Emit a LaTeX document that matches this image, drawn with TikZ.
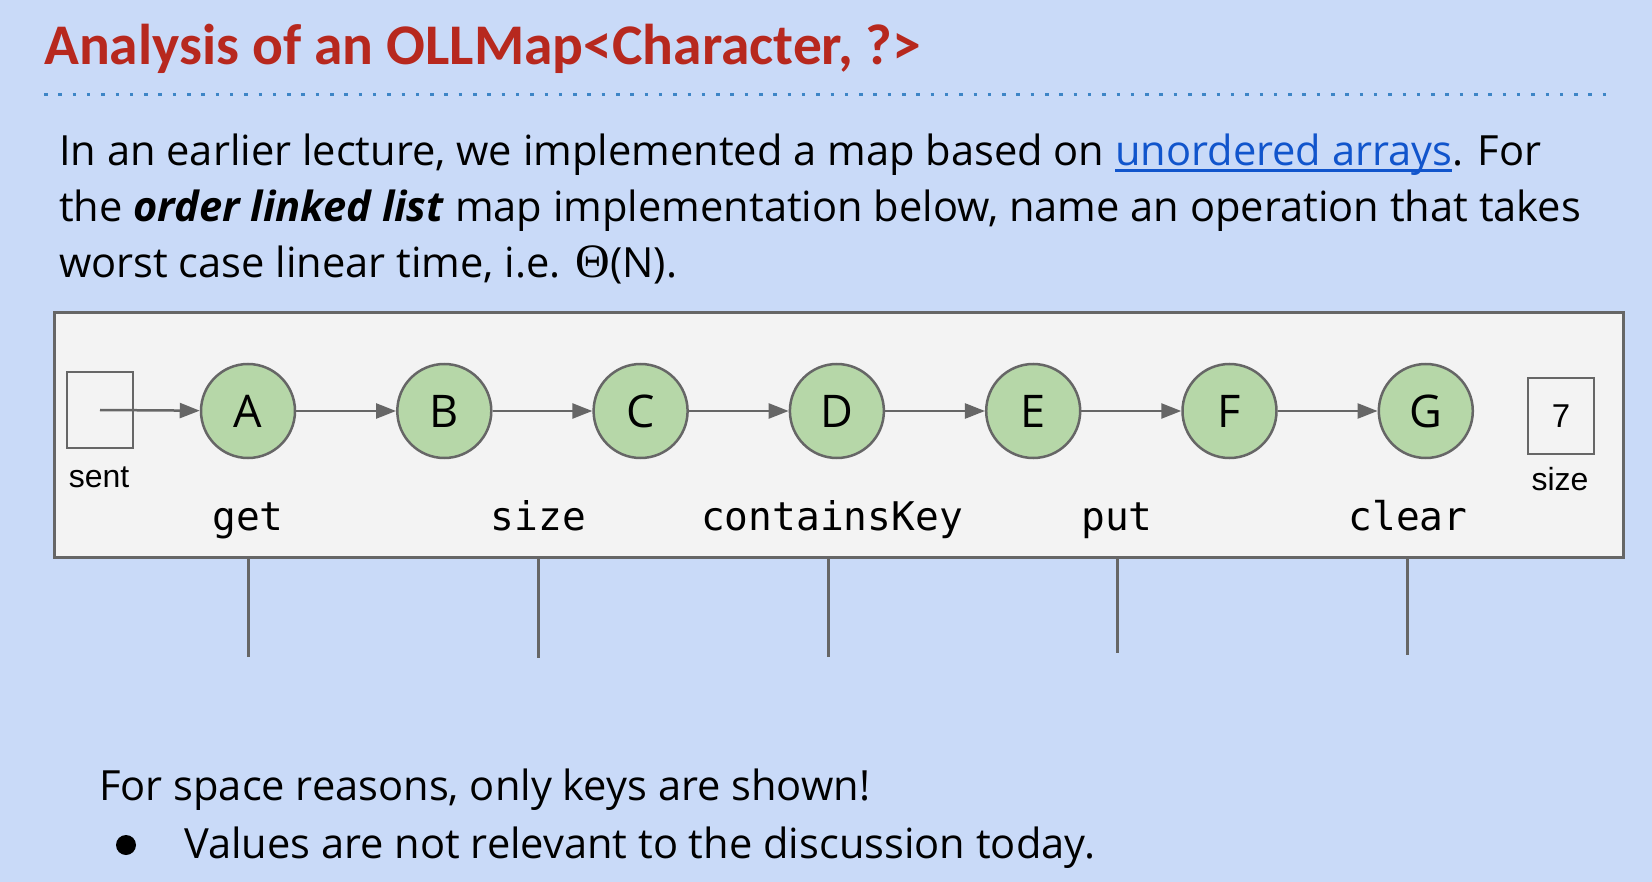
\documentclass[tikz,border=0pt]{standalone}
\usepackage{fontspec}
\setmainfont{Open Sans}
\newfontfamily\titlefont{Carlito}
\newfontfamily\codefont{DejaVu Sans Mono}
\newfontfamily\labelfont{Liberation Sans}
\newfontfamily\thetafont{Liberation Serif}
\usepackage{tikz}
\usetikzlibrary{shapes,arrows,arrows.meta,positioning,calc}
\definecolor{slideblue}{HTML}{C9DAF8}
\definecolor{titlered}{HTML}{B7281E}
\definecolor{dotblue}{HTML}{3D85C6}
\definecolor{linkblue}{HTML}{1155CC}
\definecolor{boxgray}{HTML}{F3F3F3}
\definecolor{edgegray}{HTML}{666666}
\definecolor{keygreen}{HTML}{B6D7A8}
\newcommand{\linktext}[1]{\textcolor{linkblue}{\setbox0\hbox{#1}\rlap{\rule[-6pt]{\wd0}{2.5pt}}\box0}}
\tikzstyle{keynode}=[circle, draw=edgegray, fill=keygreen, line width=2.5pt, minimum size=94pt, inner sep=0pt, font=\fontsize{45}{45}\selectfont]
\tikzstyle{smallbox}=[rectangle, draw=edgegray, line width=1.5pt, minimum width=66pt, minimum height=76pt, inner sep=0pt, font=\labelfont\fontsize{33}{33}\selectfont]
\tikzstyle{boxlabel}=[anchor=base, inner sep=0pt, font=\labelfont\fontsize{32}{32}\selectfont]
\tikzstyle{nextptr}=[-{Triangle[length=20pt,width=15pt]}, draw=edgegray, line width=2.5pt]
\tikzstyle{oplabel}=[anchor=base, inner sep=0pt, font=\codefont\fontsize{39.5}{39.5}\selectfont]
\tikzstyle{oplink}=[draw=edgegray, line width=3pt]
\tikzstyle{bodytext}=[anchor=base west, inner sep=0pt, font=\fontsize{41.6}{56}\selectfont]

\begin{document}
\begin{tikzpicture}[x=1pt,y=-1pt]

\fill[slideblue] (0,0) rectangle (1652,882);
\useasboundingbox (0,0) rectangle (1652,882);

% title
\node[anchor=base west, inner sep=0pt, text=titlered, font=\titlefont\bfseries\fontsize{57.5}{57.5}\selectfont] (title) at (44,65) {Analysis of an OLLMap<Character, ?>};
\draw[dotblue, line width=3.5pt, dash pattern=on 3.5pt off 10.8pt] (44,94.5) -- (1614,94.5);

% question
\node[bodytext] (line1) at (59,166) {In an earlier lecture, we implemented a map based on \linktext{unordered arrays}. For};
\node[bodytext] (line2) at (59,222) {the \textbf{\textit{order linked list}} map implementation below, name an operation that takes};
\node[bodytext] (line3) at (59,278) {worst case linear time, i.e. {\thetafont\fontsize{48}{48}\selectfont Θ}(N).};

% list
\node[draw=edgegray, fill=boxgray, line width=3pt, minimum width=1569pt, minimum height=244pt, inner sep=0pt] (frame) at (838.5,435) {};
\node[smallbox] (sent) at (100,410) {};
\node[boxlabel] (sentlabel) at (99,487) {sent};
\foreach \k [count=\i from 0] in {A,B,C,D,E,F,G}
    \node[keynode] (\k) at (248+196.3*\i,411) {\k};
\draw[nextptr] (sent.center) -- (A);
\foreach \a/\b in {A/B,B/C,C/D,D/E,E/F,F/G}
    \draw[nextptr] (\a) -- (\b);
\node[smallbox] (size) at (1561,416) {7};
\node[boxlabel] (sizelabel) at (1560,490) {size};

% operations
\node[oplabel] (get) at (248,530) {get};
\node[oplabel] (sizeop) at (538.5,530) {size};
\node[oplabel] (contains) at (832,530) {containsKey};
\node[oplabel] (put) at (1117,530) {put};
\node[oplabel] (clear) at (1408,530) {clear};
\coordinate (getend) at (248.6,657);
\coordinate (sizeend) at (538.4,658);
\coordinate (containsend) at (828,657);
\coordinate (putend) at (1117.7,653);
\coordinate (clearend) at (1407.7,655);
\foreach \e in {getend,sizeend,containsend,putend,clearend}
    \draw[oplink] (frame.south -| \e) -- (\e);

% note
\node[bodytext] (note) at (99,800) {For space reasons, only keys are shown!};
\node[circle, fill=black, minimum size=20pt, inner sep=0pt] (bullet) at (126,845) {};
\node[bodytext] (values) at (184,858) {Values are not relevant to the discussion today.};

\end{tikzpicture}
\end{document}
